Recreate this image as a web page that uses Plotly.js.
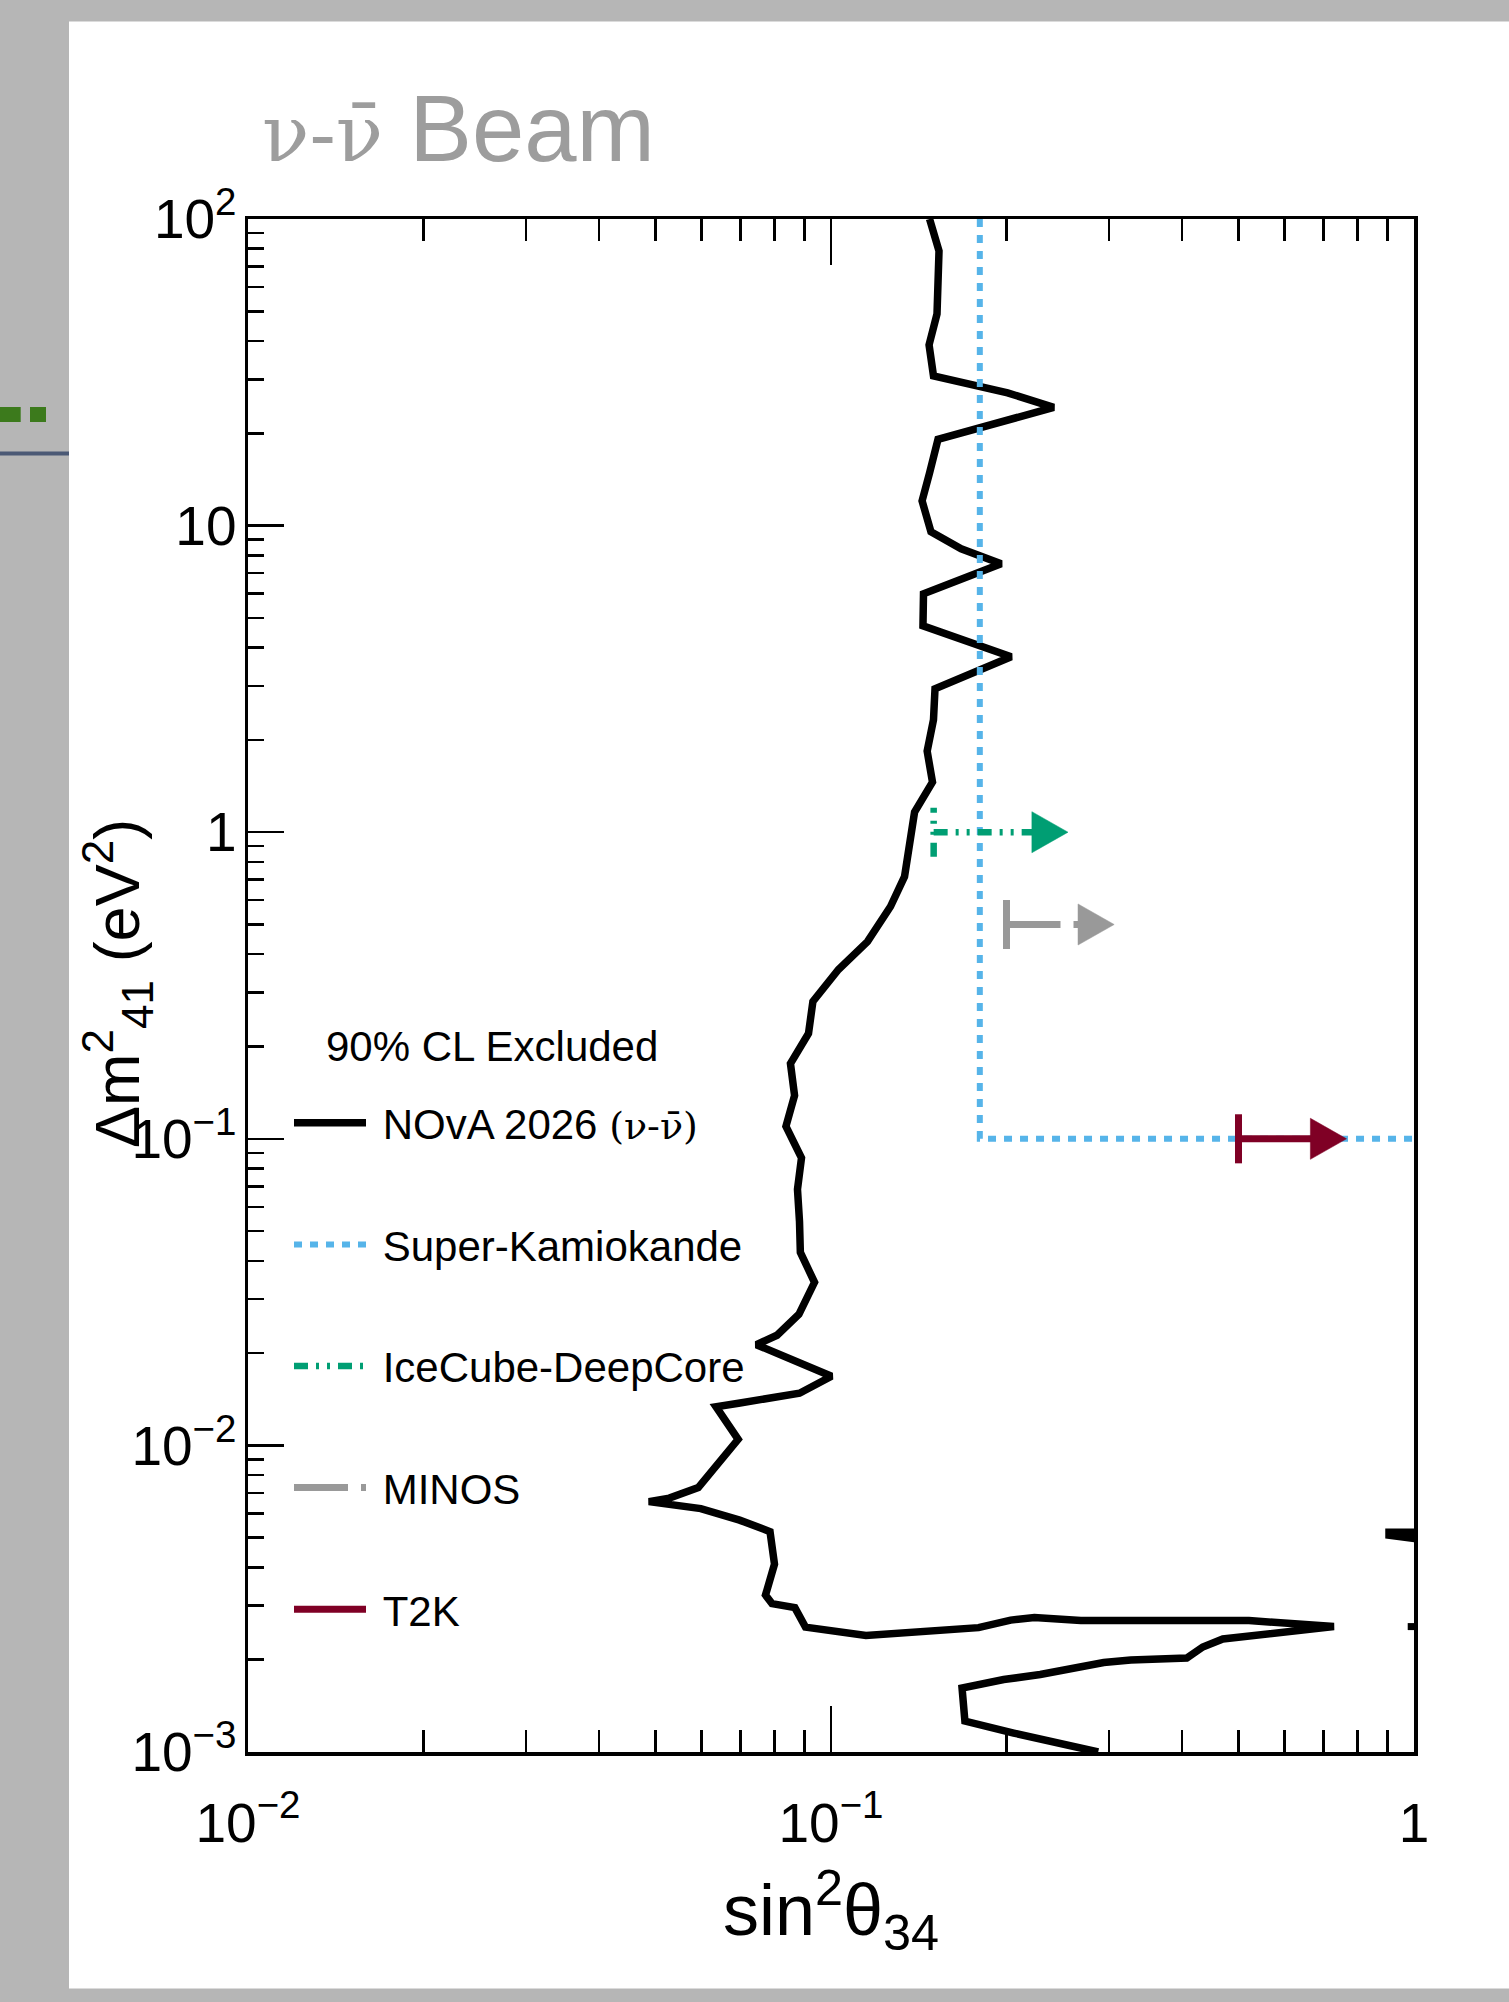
<!DOCTYPE html>
<html>
<head>
<meta charset="utf-8">
<script src="https://cdn.plot.ly/plotly-3.0.1.min.js"></script>
<style>
  html, body { margin: 0; padding: 0; background: #b6b6b6; }
  #chart { width: 1509px; height: 2002px; }
</style>
</head>
<body>
<div id="chart"></div>
<script>
// ---------------- DATA ----------------
// NOvA 2026 (nu - nubar) 90% CL exclusion contour
const nova_s2 = [0.1476,0.1532,0.1520,0.1473,0.1499,0.2009,0.2410,0.1813,0.1526,0.1476,
  0.1433,0.1484,0.1672,0.1958,0.1662,0.1441,0.1438,0.2037,0.1508,0.1499,
  0.1462,0.1493,0.1391,0.1337,0.1265,0.1155,0.1030,0.0931,0.0915,0.0852,
  0.0866,0.0837,0.0890,0.0876,0.0883,0.0886,0.0937,0.0881,0.0808,0.0745,
  0.1002,0.0883,0.0694,0.0635,0.0693,0.0628,0.0592,0.0528,0.0487,0.0598,
  0.0697,0.0786,0.0800,0.0772,0.0792,0.0867,0.0904,0.1148,0.1445,0.1791,
  0.2033,0.2233,0.2682,0.3532,0.4291,0.5211,0.7289,0.5335,0.4700,0.4342,
  0.4076,0.3267,0.2936,0.2285,0.1978,0.1678,0.1697,0.2058,0.2873];
const nova_dm2 = [100,78.6,49.0,38.85,30.78,27.09,24.30,20.91,19.11,14.86,
  12.04,9.546,8.403,7.508,6.659,5.995,4.714,3.735,2.938,2.328,
  1.838,1.457,1.163,0.7165,0.5723,0.4398,0.3566,0.2804,0.2207,0.1761,
  0.1385,0.1098,0.08665,0.06843,0.05378,0.04264,0.03403,0.02677,0.02287,0.02130,
  0.01681,0.01480,0.01373,0.01337,0.01047,0.008239,0.007281,0.006729,0.006555,0.006219,
  0.005705,0.005233,0.004100,0.003249,0.003048,0.002958,0.002555,0.002398,0.002489,0.002545,
  0.002693,0.002744,0.002683,0.002683,0.002713,0.002683,0.002565,0.002398,0.002336,0.002200,
  0.002025,0.001995,0.001958,0.001789,0.001723,0.001617,0.001262,0.001153,0.001];
// small contour islands touching the right edge
const nova_edgeA_s2  = [1.02, 0.906, 0.906, 1.02];
const nova_edgeA_dm2 = [0.005212, 0.005212, 0.005096, 0.004946];
const nova_edgeB_s2  = [0.99, 0.99];
const nova_edgeB_dm2 = [0.002633, 0.002498];

// Super-Kamiokande limit
const sk_s2  = [0.18, 0.18, 1.0];
const sk_dm2 = [100, 0.1, 0.1];

// Single-value limits drawn as arrows
const limit_names = ['IceCube-DeepCore', 'MINOS', 'T2K'];
const limit_dm2   = [1.0, 0.5, 0.1];
const limit_start = [0.15, 0.20, 0.50];
const limit_tip   = [0.255, 0.306, 0.766];

// Tick labels
const xTickVals = [0.01, 0.1, 1];
const xTickText = ['10<sup>\u22122</sup>', '10<sup>\u22121</sup>', '1'];
const yTickVals = [0.001, 0.01, 0.1, 1, 10, 100];
const yTickText = ['10<sup>\u22123</sup>', '10<sup>\u22122</sup>', '10<sup>\u22121</sup>', '1', '10', '10<sup>2</sup>'];
const xMinorVals = [0.02,0.03,0.04,0.05,0.06,0.07,0.08,0.09,0.2,0.3,0.4,0.5,0.6,0.7,0.8,0.9];
const yMinorVals = [0.002,0.003,0.004,0.005,0.006,0.007,0.008,0.009,
  0.02,0.03,0.04,0.05,0.06,0.07,0.08,0.09,
  0.2,0.3,0.4,0.5,0.6,0.7,0.8,0.9,
  2,3,4,5,6,7,8,9,
  20,30,40,50,60,70,80,90];

// ---------------- STYLE ----------------
const FONT = 'Liberation Sans, Arial, Helvetica, sans-serif';
const SERIF = "'DejaVu Serif', 'Liberation Serif', serif";
const limitColors = ['#009E73', '#999999', '#7f0025'];
const limitDash   = ['14px,8px,3px,8px,3px,8px', '54px,13px', 'solid'];
const limitWidth  = [6.5, 7, 7];
const HEAD_DX = 0.062;   // arrow head length (decades)
const HEAD_DY = 0.067;   // arrow head half height (decades)
const BAR_DY  = 0.080;   // end bar half height (decades)

const titleNu = '<span style="font-family:' + SERIF + ';font-size:78px">\u03bd-\u03bd\u0304</span>';
const legendNu = '<span style="font-family:' + SERIF + ';font-size:38px">(\u03bd-\u03bd\u0304)</span>';

// ---------------- TRACES ----------------
const traces = [];
traces.push({
  x: nova_s2.concat([null], nova_edgeA_s2, [null], nova_edgeB_s2),
  y: nova_dm2.concat([null], nova_edgeA_dm2, [null], nova_edgeB_dm2),
  mode: 'lines', name: '\u00a0NOvA 2026 ' + legendNu,
  legendgroup: 'nova',
  line: {color: '#000000', width: 7.5}, hoverinfo: 'skip'
});
traces.push({
  x: sk_s2, y: sk_dm2, mode: 'lines', name: '\u00a0Super-Kamiokande', legendgroup: 'sk',
  line: {color: '#56B4E9', width: 6, dash: '8px,8px'}, hoverinfo: 'skip'
});
limit_names.forEach((nm, i) => {
  const y = limit_dm2[i];
  const base = limit_tip[i] / Math.pow(10, HEAD_DX);
  const f = Math.pow(10, HEAD_DY);
  const b = Math.pow(10, BAR_DY);
  // horizontal limit line
  traces.push({
    x: [limit_start[i], base * 1.01], y: [y, y], mode: 'lines', name: '\u00a0' + nm, legendgroup: nm,
    line: {color: limitColors[i], width: limitWidth[i], dash: limitDash[i]}, hoverinfo: 'skip'
  });
  // end bar at the limit value
  traces.push({
    x: [limit_start[i], limit_start[i]], y: [y / b, y * b], mode: 'lines', showlegend: false,
    legendgroup: nm,
    line: {color: limitColors[i], width: limitWidth[i], dash: limitDash[i]}, hoverinfo: 'skip'
  });
  // arrow head
  traces.push({
    x: [base, limit_tip[i], base, base], y: [y * f, y, y / f, y * f], mode: 'lines',
    fill: 'toself', fillcolor: limitColors[i], showlegend: false, legendgroup: nm,
    line: {color: limitColors[i], width: 0.5}, hoverinfo: 'skip'
  });
});

// ---------------- LAYOUT ----------------
const L = 248, R = 95, T = 219, B = 250;
const W = 1509, H = 2002;
const pw = W - L - R, ph = H - T - B;
const px2x = (px) => (px - L) / pw;
const py2y = (py) => (H - B - py) / ph;

const layout = {
  width: W, height: H, autosize: false,
  margin: {l: L, r: R, t: T, b: B, pad: 0},
  paper_bgcolor: '#b6b6b6',
  plot_bgcolor: '#ffffff',
  font: {family: FONT, color: '#000000'},
  showlegend: true,
  title: {
    text: titleNu + ' Beam',
    font: {family: FONT, size: 94, color: '#9d9d9d'},
    xref: 'container', yref: 'container',
    x: 262 / W, xanchor: 'left', y: 1 - 128 / H, yanchor: 'middle'
  },
  xaxis: {
    type: 'log', range: [-2, 0], autorange: false,
    showline: true, linewidth: 3.5, linecolor: '#000', mirror: 'ticks',
    ticks: 'inside', ticklen: 46, tickwidth: 2.5, tickcolor: '#000',
    tickmode: 'array', tickvals: xTickVals, ticktext: xTickText,
    tickfont: {family: FONT, size: 55, color: '#000'},
    ticklabelstandoff: 20,
    minor: {tickmode: 'array', tickvals: xMinorVals, ticks: 'inside', ticklen: 22, tickwidth: 2.5, tickcolor: '#000', showgrid: false},
    showgrid: false, zeroline: false,
    title: {text: 'sin<sup>2</sup>\u03b8<sub>34</sub>', font: {family: FONT, size: 72, color: '#000'}, standoff: 33}
  },
  yaxis: {
    type: 'log', range: [-3, 2], autorange: false,
    showline: true, linewidth: 3.5, linecolor: '#000', mirror: true,
    ticks: 'inside', ticklen: 36, tickwidth: 2.5, tickcolor: '#000',
    tickmode: 'array', tickvals: yTickVals, ticktext: yTickText,
    tickfont: {family: FONT, size: 55, color: '#000'},
    ticklabelstandoff: -3,
    minor: {tickmode: 'array', tickvals: yMinorVals, ticks: 'inside', ticklen: 16, tickwidth: 2.5, tickcolor: '#000', showgrid: false},
    showgrid: false, zeroline: false
  },
  legend: {
    x: px2x(289), xanchor: 'left', y: py2y(1089), yanchor: 'top',
    bgcolor: 'rgba(0,0,0,0)', borderwidth: 0,
    font: {family: FONT, size: 42, color: '#000'},
    traceorder: 'grouped', tracegroupgap: 64, itemwidth: 72
  },
  annotations: [
    {
      text: 'Δm<sup>2</sup><sub>41</sub> (eV<sup>2</sup>)', textangle: -90,
      xref: 'paper', yref: 'paper', x: px2x(117), y: py2y(984),
      xanchor: 'center', yanchor: 'middle', showarrow: false,
      font: {family: FONT, size: 63, color: '#000'}
    },
    {
      text: '90% CL Excluded', xref: 'paper', yref: 'paper',
      x: px2x(324), y: py2y(1046), xanchor: 'left', yanchor: 'middle', showarrow: false,
      font: {family: FONT, size: 42, color: '#000'}
    }
  ],
  shapes: [
    // white slide panel
    {type: 'rect', xref: 'paper', yref: 'paper', layer: 'below',
     x0: px2x(69), x1: px2x(1520), y0: py2y(1988.5), y1: py2y(21.5),
     fillcolor: '#ffffff', line: {width: 0}},
    // fragments of the neighbouring slide at the left
    {type: 'rect', xref: 'paper', yref: 'paper', layer: 'below',
     x0: px2x(-5), x1: px2x(20.7), y0: py2y(422), y1: py2y(407),
     fillcolor: '#3c7a1c', line: {width: 0}},
    {type: 'rect', xref: 'paper', yref: 'paper', layer: 'below',
     x0: px2x(30), x1: px2x(46), y0: py2y(422), y1: py2y(407),
     fillcolor: '#3c7a1c', line: {width: 0}},
    {type: 'rect', xref: 'paper', yref: 'paper', layer: 'below',
     x0: px2x(-5), x1: px2x(69), y0: py2y(455.5), y1: py2y(451.5),
     fillcolor: '#4b5975', line: {width: 0}}
  ]
};

Plotly.newPlot('chart', traces, layout, {staticPlot: true, displayModeBar: false});
</script>
</body>
</html>
